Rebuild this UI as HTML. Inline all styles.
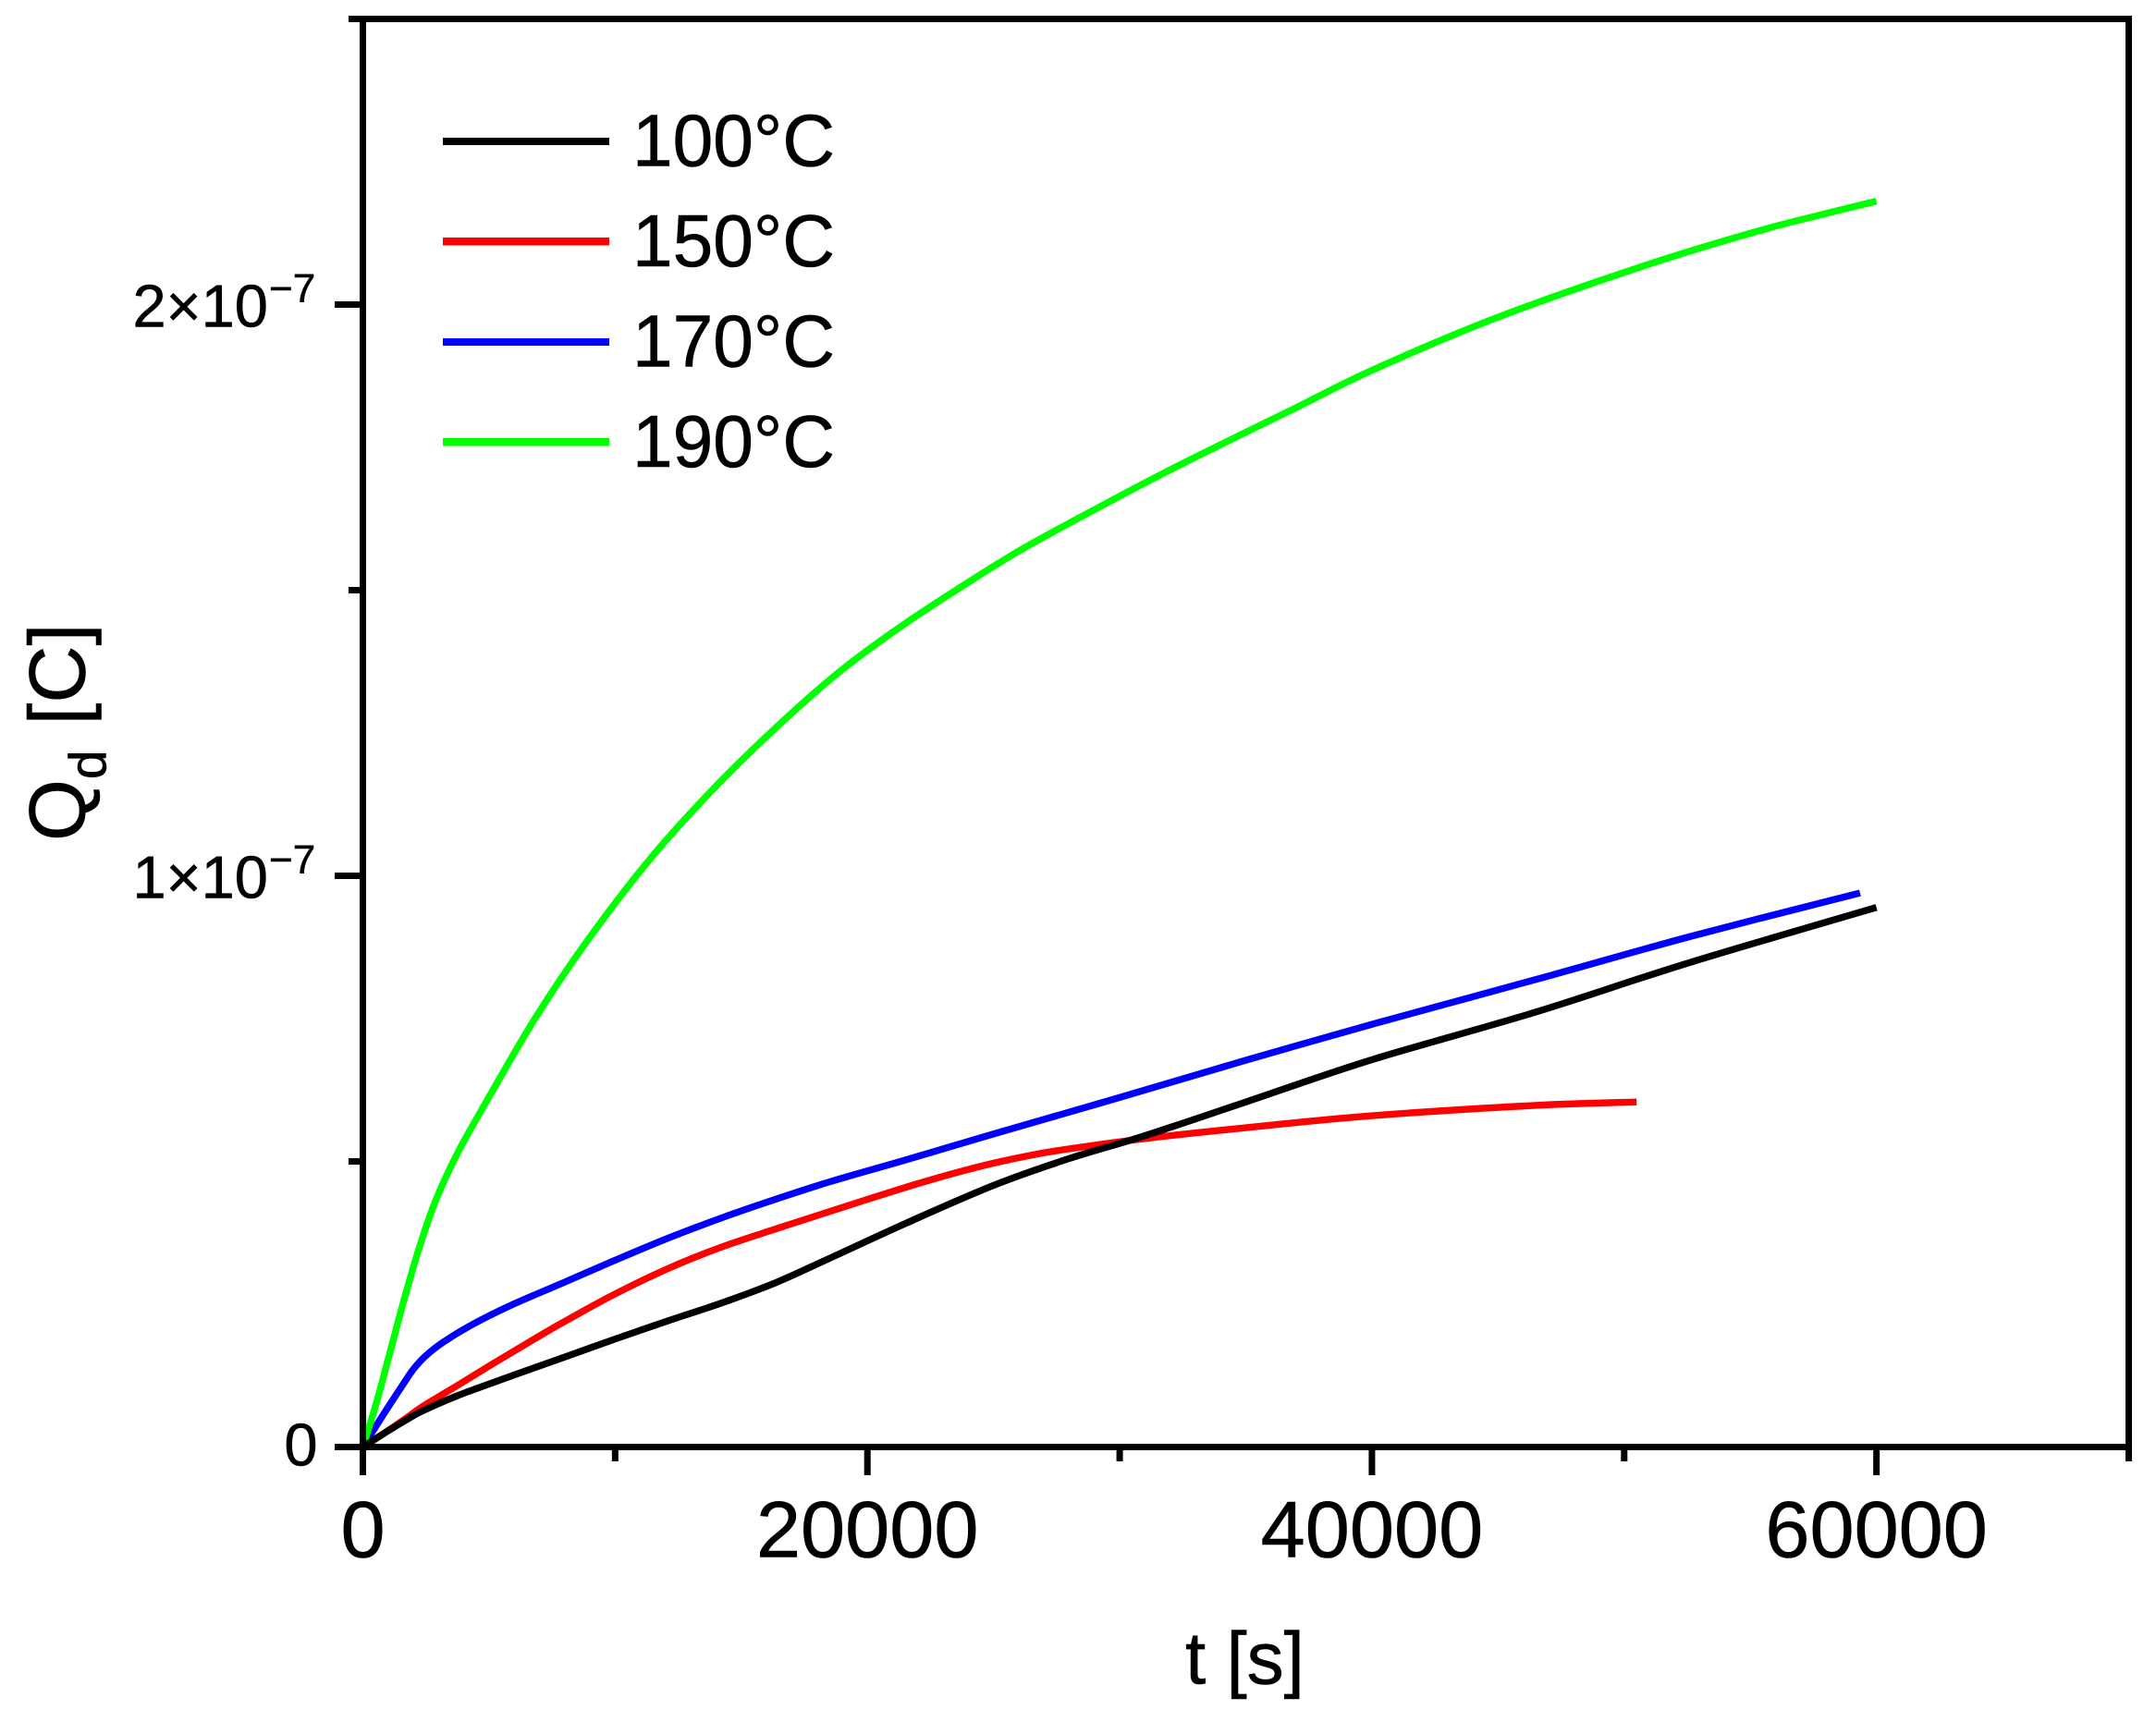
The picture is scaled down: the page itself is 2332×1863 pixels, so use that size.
<!DOCTYPE html>
<html lang="en">
<head>
<meta charset="utf-8">
<title>Qd vs t</title>
<style>
html,body{margin:0;padding:0;background:#fff;}
body{width:2332px;height:1863px;overflow:hidden;}
svg{display:block;}
text{font-family:"Liberation Sans",Arial,sans-serif;fill:#000;stroke:#000;stroke-width:0.6px;}
</style>
</head>
<body>
<svg id="chart" xmlns="http://www.w3.org/2000/svg" width="2332" height="1863" viewBox="0 0 2332 1863">
  <rect x="0" y="0" width="2332" height="1863" fill="#fff"/>
  <g id="series"></g>
  <g id="axes"></g>
  <g id="legend"></g>
  <text x="1282" y="1821.5" font-size="80">t [s]</text>
  <text transform="translate(91.7,910) rotate(-90)" font-size="86">Q<tspan dy="23" font-size="57">d</tspan><tspan dy="-23" dx="3" font-size="86" xml:space="preserve"> [C]</tspan></text>
</svg>
<script>
// Axis ranges
var xRange = [0, 70000];
var yRange = [0, 2.5];

// Tick values and labels (y in units of 1e-7 C)
var xMajorTicks = [0, 20000, 40000, 60000];
var xMinorTicks = [10000, 30000, 50000, 70000];
var xTickLabels = ['0', '20000', '40000', '60000'];
var yMajorTicks = [0, 1, 2];
var yMinorTicks = [0.5, 1.5, 2.5];
var yTickLabels = ['0', '1×10', '2×10'];
var yTickExponent = ['', '−7', '−7'];

// Legend and series names
var seriesNames = ['100°C', '150°C', '170°C', '190°C'];

// 100 °C
var t100 = [0, 700, 1700, 2356, 3759, 5862, 7966, 10000, 12174, 14277, 16381, 18485, 21543, 25000, 28000, 31000, 35000, 40000, 46460, 52560, 60000];
var q100 = [0, 0.02, 0.047, 0.063, 0.09, 0.124, 0.157, 0.189, 0.222, 0.253, 0.288, 0.33, 0.392, 0.458, 0.505, 0.545, 0.604, 0.678, 0.761, 0.8476, 0.9447];

// 150 °C
var t150 = [0, 700, 1700, 2356, 3759, 5161, 6564, 7966, 10000, 12174, 14277, 16381, 18485, 21543, 23500, 25000, 26500, 28000, 31000, 35000, 40000, 46460, 50490];
var q150 = [0, 0.02, 0.05, 0.0707, 0.108, 0.146, 0.183, 0.219, 0.268, 0.314, 0.351, 0.382, 0.412, 0.455, 0.48, 0.497, 0.511, 0.522, 0.54, 0.559, 0.58, 0.598, 0.604];

// 170 °C
var t170 = [0, 800, 1510, 2000, 2500, 3198, 4320, 5862, 7966, 10000, 12174, 14277, 16381, 18485, 21543, 25000, 30000, 35000, 40000, 46460, 52560, 59350];
var q170 = [0, 0.056, 0.104, 0.136, 0.16, 0.184, 0.214, 0.248, 0.288, 0.327, 0.367, 0.402, 0.434, 0.464, 0.503, 0.548, 0.612, 0.677, 0.74, 0.818, 0.893, 0.97];

// 190 °C
var t190 = [0, 533, 1094, 1696, 2300, 2917, 3759, 4835, 6821, 8924, 11490, 14066, 16635, 18973, 21311, 23650, 25985, 28322, 30660, 33000, 36925, 40000, 45000, 51000, 55250, 57690, 60000];
var q190 = [0, 0.077, 0.169, 0.268, 0.358, 0.435, 0.515, 0.6, 0.75, 0.888, 1.035, 1.16, 1.27, 1.36, 1.436, 1.504, 1.568, 1.625, 1.68, 1.733, 1.818, 1.885, 1.978, 2.071, 2.128, 2.156, 2.181];

var SVGNS = 'http://www.w3.org/2000/svg';
var plotLeft = 392.5, plotRight = 2302.5, plotTop = 20.5, plotBottom = 1565.5;

function xScale(v) {
  return plotLeft + (v - xRange[0]) / (xRange[1] - xRange[0]) * (plotRight - plotLeft);
}
function yScale(v) {
  return plotBottom - (v - yRange[0]) / (yRange[1] - yRange[0]) * (plotBottom - plotTop);
}
function make(tag, attrs, parent) {
  var el = document.createElementNS(SVGNS, tag);
  for (var k in attrs) { el.setAttribute(k, attrs[k]); }
  parent.appendChild(el);
  return el;
}
function smoothPath(ts, qs) {
  var pts = ts.map(function (t, i) { return [xScale(t), yScale(qs[i])]; });
  var d = 'M' + pts[0][0].toFixed(2) + ' ' + pts[0][1].toFixed(2);
  for (var i = 0; i < pts.length - 1; i++) {
    var p0 = pts[Math.max(i - 1, 0)], p1 = pts[i], p2 = pts[i + 1], p3 = pts[Math.min(i + 2, pts.length - 1)];
    var c1x = p1[0] + (p2[0] - p0[0]) / 6, c1y = p1[1] + (p2[1] - p0[1]) / 6;
    var c2x = p2[0] - (p3[0] - p1[0]) / 6, c2y = p2[1] - (p3[1] - p1[1]) / 6;
    d += 'C' + c1x.toFixed(2) + ' ' + c1y.toFixed(2) + ' ' + c2x.toFixed(2) + ' ' + c2y.toFixed(2) + ' ' + p2[0].toFixed(2) + ' ' + p2[1].toFixed(2);
  }
  return d;
}

// Series
var seriesGroup = document.getElementById('series');
var line150 = make('path', {d: smoothPath(t150, q150), fill: 'none', stroke: '#ff0000', 'stroke-width': 7.4, 'stroke-linejoin': 'round'}, seriesGroup);


var line170 = make('path', {d: smoothPath(t170, q170), fill: 'none', stroke: '#0000ff', 'stroke-width': 7.4, 'stroke-linejoin': 'round'}, seriesGroup);


var line190 = make('path', {d: smoothPath(t190, q190), fill: 'none', stroke: '#00ff00', 'stroke-width': 7.4, 'stroke-linejoin': 'round'}, seriesGroup);


var line100 = make('path', {d: smoothPath(t100, q100), fill: 'none', stroke: '#000000', 'stroke-width': 7.4, 'stroke-linejoin': 'round'}, seriesGroup);



// Axes
var axes = document.getElementById('axes');
var spineHalf = 3.5;
var spineLeft = make('rect', {x: plotLeft - spineHalf, y: plotTop, width: 7, height: plotBottom - plotTop, fill: '#000'}, axes);


var spineRight = make('rect', {x: plotRight - spineHalf, y: plotTop, width: 7, height: plotBottom - plotTop, fill: '#000'}, axes);


var spineTop = make('rect', {x: plotLeft, y: plotTop - spineHalf, width: plotRight - plotLeft + spineHalf, height: 7, fill: '#000'}, axes);


var spineBottom = make('rect', {x: plotLeft, y: plotBottom - spineHalf, width: plotRight - plotLeft + spineHalf, height: 7, fill: '#000'}, axes);



xMajorTicks.forEach(function (v, i) {
  var tick = make('rect', {x: xScale(v) - spineHalf, y: plotBottom, width: 7, height: 30.5, fill: '#000'}, axes);
  
  
  var label = make('text', {x: xScale(v), y: 1684.7, 'font-size': 86.5, 'text-anchor': 'middle'}, axes);
  label.textContent = xTickLabels[i];
  
  
});
xMinorTicks.forEach(function (v) {
  var tick = make('rect', {x: xScale(v) - spineHalf, y: plotBottom, width: 7, height: 15.5, fill: '#000'}, axes);
  
  
});
yMajorTicks.forEach(function (v, i) {
  var tick = make('rect', {x: 362, y: yScale(v) - spineHalf, width: plotLeft - 362, height: 7, fill: '#000'}, axes);
  
  
  var label = make('text', {x: yTickExponent[i] ? 143.5 : 307.4, y: yScale(v) + (yTickExponent[i] ? 24 : 20), 'font-size': 65}, axes);
  label.textContent = yTickLabels[i];
  
  
  if (yTickExponent[i]) {
    var exp = make('text', {x: 291, y: yScale(v) - 2.5, 'font-size': 44}, axes);
    exp.textContent = yTickExponent[i];
    
    
  }
});
yMinorTicks.forEach(function (v) {
  var tick = make('rect', {x: 377, y: yScale(v) - spineHalf, width: plotLeft - 377, height: 7, fill: '#000'}, axes);
  
  
});

// Legend
var legend = document.getElementById('legend');
var legendSwatch0 = make('rect', {x: 479, y: 149, width: 180, height: 8, fill: '#000000'}, legend);


var legendText0 = make('text', {x: 684, y: 179.7, 'font-size': 80, textLength: 219, lengthAdjust: 'spacingAndGlyphs'}, legend);
legendText0.textContent = seriesNames[0];


var legendSwatch1 = make('rect', {x: 479, y: 257, width: 180, height: 8.5, fill: '#ff0000'}, legend);


var legendText1 = make('text', {x: 684, y: 288, 'font-size': 80, textLength: 219, lengthAdjust: 'spacingAndGlyphs'}, legend);
legendText1.textContent = seriesNames[1];


var legendSwatch2 = make('rect', {x: 479, y: 366, width: 180, height: 8, fill: '#0000ff'}, legend);


var legendText2 = make('text', {x: 684, y: 396.4, 'font-size': 80, textLength: 219, lengthAdjust: 'spacingAndGlyphs'}, legend);
legendText2.textContent = seriesNames[2];


var legendSwatch3 = make('rect', {x: 479, y: 474, width: 180, height: 8.5, fill: '#00ff00'}, legend);


var legendText3 = make('text', {x: 684, y: 505, 'font-size': 80, textLength: 219, lengthAdjust: 'spacingAndGlyphs'}, legend);
legendText3.textContent = seriesNames[3];


</script>
</body>
</html>
